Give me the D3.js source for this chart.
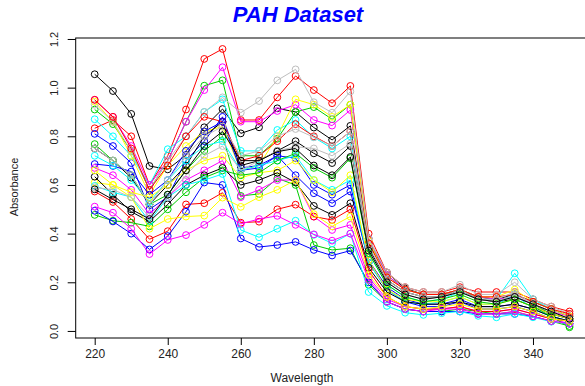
<!DOCTYPE html>
<html>
<head>
<meta charset="utf-8">
<script src="https://cdn.jsdelivr.net/npm/d3@7"></script>
<style>
  body { margin: 0; background: #fff; }
  svg { display: block; font-family: "Liberation Sans", Arial, sans-serif; }
</style>
</head>
<body>
<div id="chart"></div>
<script>
// wavelengths (nm)
const wavelengths = [220, 225, 230, 235, 240, 245, 250, 255, 260, 265, 270, 275, 280, 285,
  290, 295, 300, 305, 310, 315, 320, 325, 330, 335, 340, 345, 350];

// one absorbance spectrum per sample
const pah01 = [1.055, 0.986, 0.892, 0.678, 0.664, 0.723, 0.837, 0.912, 0.812, 0.837, 0.915, 0.900, 0.836, 0.785, 0.843, 0.360, 0.240, 0.175, 0.150, 0.150, 0.170, 0.140, 0.130, 0.150, 0.120, 0.090, 0.060];
const pah02 = [0.833, 0.867, 0.800, 0.600, 0.720, 0.910, 1.118, 1.159, 0.867, 0.867, 0.960, 1.048, 0.990, 0.936, 1.007, 0.400, 0.240, 0.180, 0.160, 0.160, 0.180, 0.160, 0.160, 0.160, 0.130, 0.100, 0.080];
const pah03 = [0.910, 0.850, 0.740, 0.580, 0.700, 0.860, 1.008, 1.030, 0.720, 0.720, 0.790, 0.900, 0.920, 0.870, 0.930, 0.380, 0.230, 0.170, 0.150, 0.150, 0.170, 0.140, 0.130, 0.140, 0.110, 0.070, 0.050];
const pah04 = [0.810, 0.760, 0.690, 0.500, 0.550, 0.700, 0.780, 0.880, 0.670, 0.680, 0.720, 0.640, 0.566, 0.525, 0.573, 0.290, 0.180, 0.130, 0.110, 0.110, 0.130, 0.100, 0.100, 0.110, 0.090, 0.060, 0.040];
const pah05 = [0.870, 0.800, 0.720, 0.600, 0.747, 0.800, 0.900, 0.952, 0.740, 0.740, 0.826, 0.867, 0.796, 0.750, 0.800, 0.320, 0.190, 0.140, 0.120, 0.130, 0.160, 0.130, 0.130, 0.237, 0.130, 0.090, 0.060];
const pah06 = [0.950, 0.880, 0.760, 0.600, 0.700, 0.860, 0.990, 1.084, 0.860, 0.860, 0.904, 0.930, 0.867, 0.844, 0.908, 0.380, 0.230, 0.170, 0.150, 0.150, 0.170, 0.140, 0.130, 0.140, 0.110, 0.080, 0.060];
const pah07 = [0.942, 0.860, 0.720, 0.560, 0.680, 0.760, 0.820, 0.840, 0.660, 0.680, 0.800, 0.952, 0.930, 0.880, 0.930, 0.370, 0.220, 0.170, 0.150, 0.150, 0.170, 0.140, 0.140, 0.170, 0.120, 0.090, 0.060];
const pah08 = [0.930, 0.860, 0.740, 0.580, 0.700, 0.800, 0.900, 0.960, 0.897, 0.945, 1.030, 1.075, 0.940, 0.897, 0.984, 0.380, 0.240, 0.180, 0.160, 0.160, 0.190, 0.150, 0.150, 0.200, 0.130, 0.100, 0.070];
const pah09 = [0.750, 0.700, 0.630, 0.520, 0.600, 0.680, 0.800, 0.860, 0.680, 0.700, 0.740, 0.780, 0.730, 0.690, 0.760, 0.340, 0.210, 0.160, 0.140, 0.140, 0.170, 0.130, 0.120, 0.130, 0.100, 0.070, 0.050];
const pah10 = [0.950, 0.880, 0.750, 0.580, 0.680, 0.800, 0.880, 0.860, 0.700, 0.720, 0.780, 0.850, 0.800, 0.760, 0.820, 0.360, 0.220, 0.170, 0.150, 0.150, 0.170, 0.140, 0.140, 0.150, 0.120, 0.090, 0.070];
const pah11 = [0.768, 0.700, 0.640, 0.520, 0.560, 0.660, 0.740, 0.800, 0.555, 0.563, 0.627, 0.600, 0.353, 0.333, 0.340, 0.190, 0.120, 0.090, 0.080, 0.080, 0.090, 0.080, 0.070, 0.080, 0.060, 0.040, 0.020];
const pah12 = [0.686, 0.678, 0.655, 0.560, 0.620, 0.740, 0.820, 0.860, 0.660, 0.670, 0.720, 0.710, 0.600, 0.560, 0.600, 0.280, 0.170, 0.120, 0.100, 0.100, 0.120, 0.090, 0.090, 0.100, 0.080, 0.050, 0.040];
const pah13 = [0.720, 0.680, 0.620, 0.530, 0.620, 0.700, 0.760, 0.780, 0.660, 0.680, 0.700, 0.720, 0.620, 0.580, 0.620, 0.280, 0.170, 0.120, 0.110, 0.120, 0.140, 0.110, 0.110, 0.150, 0.090, 0.060, 0.040];
const pah14 = [0.670, 0.640, 0.580, 0.480, 0.550, 0.620, 0.660, 0.700, 0.550, 0.580, 0.620, 0.620, 0.470, 0.415, 0.436, 0.220, 0.130, 0.100, 0.090, 0.090, 0.100, 0.080, 0.080, 0.090, 0.070, 0.050, 0.030];
const pah15 = [0.610, 0.600, 0.570, 0.550, 0.600, 0.660, 0.700, 0.720, 0.630, 0.650, 0.660, 0.700, 0.620, 0.570, 0.640, 0.290, 0.170, 0.130, 0.120, 0.120, 0.140, 0.110, 0.110, 0.130, 0.100, 0.070, 0.050];
const pah16 = [0.750, 0.700, 0.640, 0.520, 0.620, 0.720, 0.800, 0.840, 0.720, 0.740, 0.800, 0.830, 0.796, 0.760, 0.820, 0.350, 0.210, 0.160, 0.140, 0.140, 0.170, 0.130, 0.130, 0.160, 0.110, 0.080, 0.050];
const pah17 = [0.634, 0.560, 0.490, 0.450, 0.520, 0.600, 0.640, 0.670, 0.600, 0.620, 0.650, 0.610, 0.514, 0.477, 0.525, 0.260, 0.160, 0.120, 0.110, 0.110, 0.120, 0.100, 0.100, 0.110, 0.090, 0.060, 0.040];
const pah18 = [0.573, 0.530, 0.460, 0.377, 0.410, 0.520, 0.525, 0.568, 0.445, 0.449, 0.500, 0.519, 0.470, 0.456, 0.500, 0.250, 0.140, 0.100, 0.090, 0.090, 0.100, 0.080, 0.080, 0.090, 0.070, 0.050, 0.040];
const pah19 = [0.477, 0.453, 0.445, 0.430, 0.500, 0.570, 0.630, 0.660, 0.640, 0.650, 0.700, 0.730, 0.670, 0.630, 0.710, 0.320, 0.190, 0.140, 0.120, 0.130, 0.150, 0.120, 0.110, 0.130, 0.100, 0.060, 0.015];
const pah20 = [0.494, 0.450, 0.400, 0.335, 0.390, 0.490, 0.610, 0.600, 0.380, 0.345, 0.353, 0.366, 0.333, 0.310, 0.330, 0.200, 0.120, 0.090, 0.080, 0.080, 0.080, 0.070, 0.070, 0.070, 0.060, 0.040, 0.030];
const pah21 = [0.596, 0.570, 0.550, 0.450, 0.550, 0.600, 0.620, 0.645, 0.415, 0.385, 0.420, 0.453, 0.395, 0.360, 0.400, 0.160, 0.103, 0.075, 0.066, 0.073, 0.080, 0.062, 0.056, 0.070, 0.056, 0.038, 0.030];
const pah22 = [0.511, 0.486, 0.420, 0.316, 0.374, 0.394, 0.436, 0.486, 0.440, 0.460, 0.473, 0.436, 0.397, 0.371, 0.400, 0.210, 0.120, 0.090, 0.080, 0.090, 0.090, 0.070, 0.070, 0.080, 0.060, 0.040, 0.030];
const pah23 = [0.660, 0.600, 0.550, 0.420, 0.460, 0.470, 0.474, 0.548, 0.510, 0.550, 0.580, 0.620, 0.480, 0.430, 0.470, 0.230, 0.140, 0.100, 0.090, 0.100, 0.110, 0.090, 0.090, 0.100, 0.080, 0.050, 0.040];
const pah24 = [0.590, 0.580, 0.550, 0.470, 0.550, 0.640, 0.720, 0.760, 0.660, 0.700, 0.740, 0.757, 0.750, 0.720, 0.770, 0.330, 0.200, 0.150, 0.130, 0.140, 0.160, 0.130, 0.120, 0.150, 0.110, 0.080, 0.050];
const pah25 = [0.582, 0.540, 0.500, 0.460, 0.560, 0.660, 0.760, 0.820, 0.700, 0.700, 0.737, 0.750, 0.680, 0.640, 0.715, 0.330, 0.200, 0.150, 0.130, 0.140, 0.160, 0.130, 0.120, 0.140, 0.110, 0.080, 0.050];

const samples = [pah01, pah02, pah03, pah04, pah05, pah06, pah07, pah08, pah09, pah10, pah11, pah12, pah13,
  pah14, pah15, pah16, pah17, pah18, pah19, pah20, pah21, pah22, pah23, pah24, pah25];

// R default palette, cycled over the samples
const palette = ['#000000', '#FF0000', '#00CD00', '#0000FF', '#00FFFF', '#FF00FF', '#FFFF00', '#BEBEBE'];

const xTicks = [220, 240, 260, 280, 300, 320, 340];
const yTicks = [0.0, 0.2, 0.4, 0.6, 0.8, 1.0, 1.2];

const width = 585, height = 386;
const plot = { left: 75.7, right: 588.5, top: 38, bottom: 338 };
const font = '"Liberation Sans", Arial, sans-serif';

const svg = d3.select('#chart').append('svg')
  .attr('width', width)
  .attr('height', height);

// scales, padded 4% like R
const x = d3.scaleLinear().domain([214.8, 355.2]).range([plot.left, plot.right]);
const y = d3.scaleLinear().domain([-0.029, 1.204]).range([plot.bottom, plot.top]);

// lines + open circles
const line = d3.line()
  .x((d, i) => x(wavelengths[i]))
  .y(d => y(d));

const series = svg.append('g').attr('class', 'series');
samples.forEach((vals, k) => {
  const col = palette[k % palette.length];
  const g = series.append('g');
  g.append('path')
    .datum(vals)
    .attr('d', line)
    .attr('fill', 'none')
    .attr('stroke', col)
    .attr('stroke-width', 1);
  g.selectAll('circle')
    .data(vals)
    .enter()
    .append('circle')
    .attr('cx', (d, i) => x(wavelengths[i]))
    .attr('cy', d => y(d))
    .attr('r', 3.4)
    .attr('fill', 'none')
    .attr('stroke', col)
    .attr('stroke-width', 1);
});

// box
svg.append('rect')
  .attr('x', plot.left)
  .attr('y', plot.top)
  .attr('width', plot.right - plot.left)
  .attr('height', plot.bottom - plot.top)
  .attr('fill', 'none')
  .attr('stroke', '#000')
  .attr('stroke-width', 1);

// x axis
const xAxis = d3.axisBottom(x)
  .tickValues(xTicks)
  .tickSize(7)
  .tickPadding(4)
  .tickFormat(d3.format('d'));
const gx = svg.append('g')
  .attr('transform', `translate(0, ${plot.bottom})`)
  .call(xAxis);
gx.select('.domain').remove();
gx.selectAll('text')
  .attr('font-size', 12)
  .attr('fill', '#222')
  .attr('font-family', font);

// y axis, labels parallel to the axis
const yAxis = d3.axisLeft(y)
  .tickValues(yTicks)
  .tickSize(8)
  .tickFormat(d3.format('.1f'));
const gy = svg.append('g')
  .attr('transform', `translate(${plot.left}, 0)`)
  .call(yAxis);
gy.select('.domain').remove();
gy.selectAll('.tick text')
  .attr('font-size', 11)
  .attr('fill', '#222')
  .attr('font-family', font)
  .attr('x', null)
  .attr('text-anchor', 'middle')
  .attr('dy', '0.35em')
  .attr('transform', 'translate(-22, 0) rotate(-90)');

// titles
svg.append('text')
  .attr('x', 298)
  .attr('y', 22)
  .attr('text-anchor', 'middle')
  .attr('font-size', 22)
  .attr('font-weight', 'bold')
  .attr('font-style', 'italic')
  .attr('fill', '#0000FF')
  .text('PAH Dataset');

svg.append('text')
  .attr('x', 302)
  .attr('y', 382)
  .attr('text-anchor', 'middle')
  .attr('font-size', 12)
  .attr('fill', '#222')
  .text('Wavelength');

svg.append('text')
  .attr('transform', 'translate(18, 187) rotate(-90)')
  .attr('text-anchor', 'middle')
  .attr('font-size', 11)
  .attr('fill', '#222')
  .text('Absorbance');
</script>
</body>
</html>
